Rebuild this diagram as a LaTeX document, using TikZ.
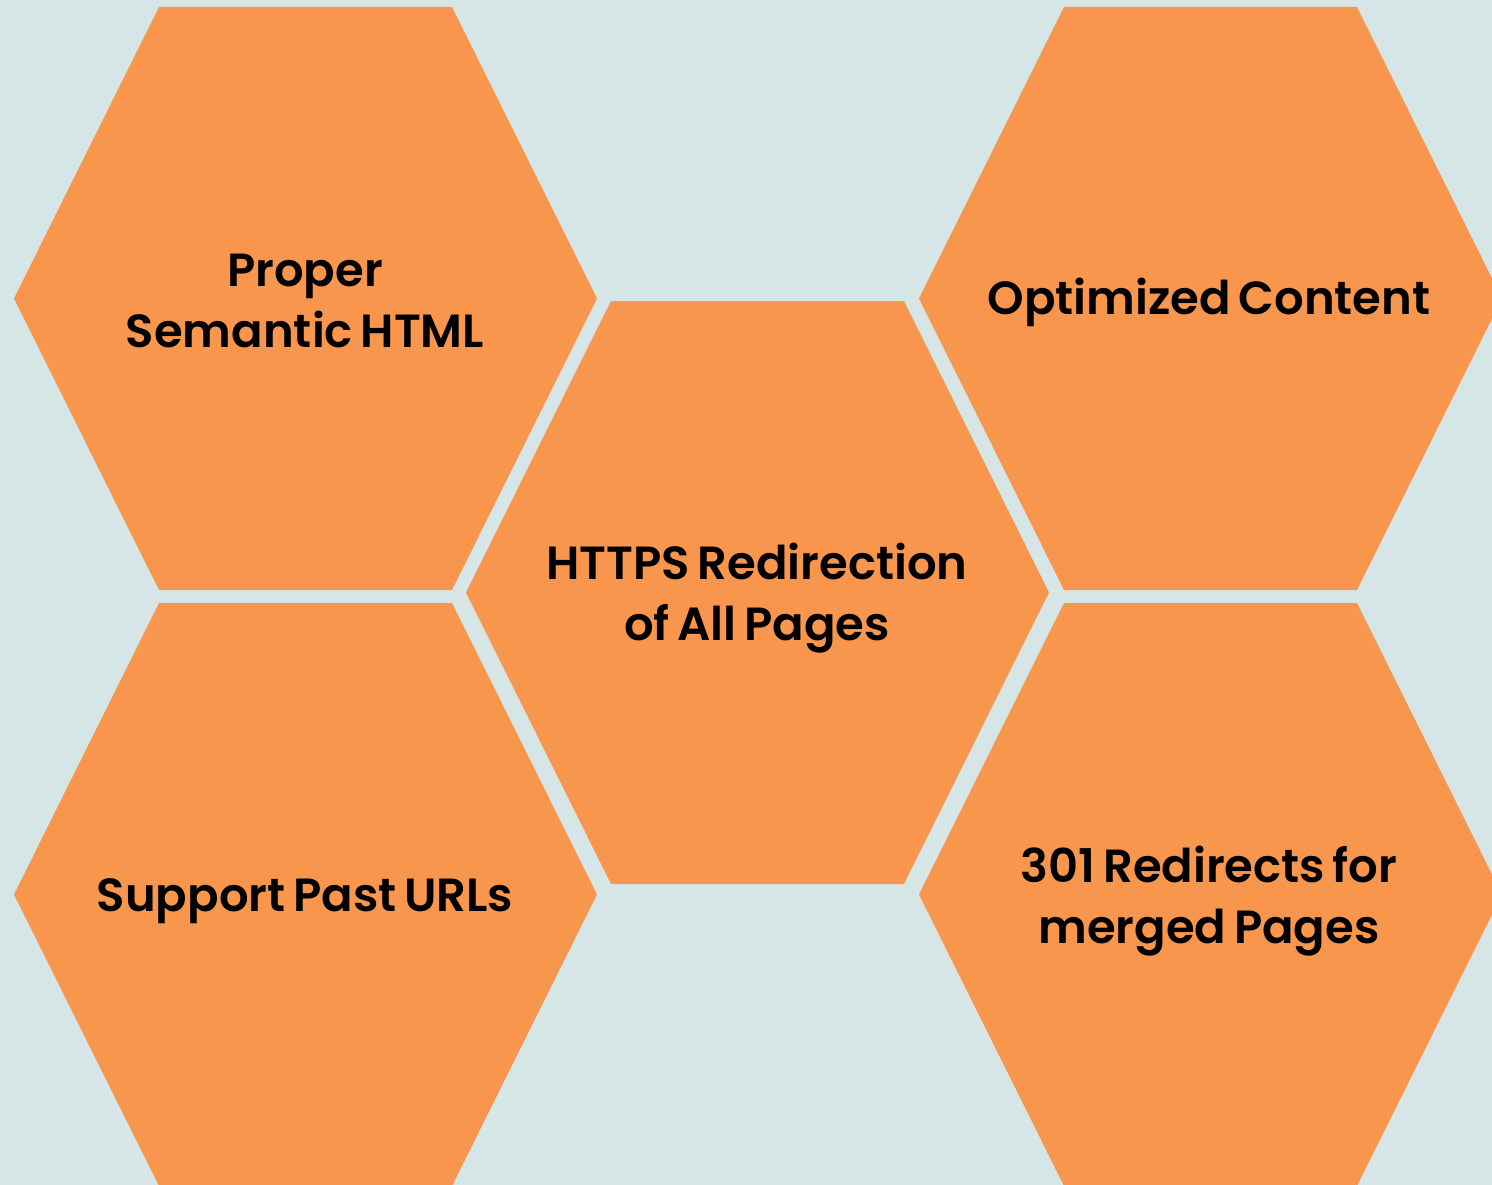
\documentclass[tikz,border=0pt]{standalone}
\usepackage{fontspec}
\newfontfamily\hexfont{Poppins SemiBold}[WordSpace=0.7]
\definecolor{bgcol}{HTML}{D6E5E5}
\definecolor{hexcol}{HTML}{F9964E}
\tikzset{
  hexlabel/.style={font=\hexfont\fontsize{46.5}{61}\selectfont, text=black,
    align=center, inner sep=0pt, anchor=base},
}
\newcommand{\hexat}[2]{%
  \fill[hexcol] (#1-146.5,#2-291.5) -- (#1+146.5,#2-291.5) -- (#1+291.5,#2)
    -- (#1+146.5,#2+291.5) -- (#1-146.5,#2+291.5) -- (#1-291.5,#2) -- cycle;}
\begin{document}
\begin{tikzpicture}[x=1pt,y=-1pt]
\useasboundingbox (0,0) rectangle (1492,1185);
\clip (0,0) rectangle (1492,1185);
\fill[bgcol] (0,0) rectangle (1492,1185);
\hexat{305.5}{298.5}
\hexat{757.5}{592.5}
\hexat{1210.5}{298.5}
\hexat{305.5}{894.5}
\hexat{1210.5}{894.5}
\node[hexlabel] (semantic) at (305,347) {Proper\\Semantic HTML};
\node[hexlabel] (https) at (757,640) {HTTPS Redirection\\of All Pages};
\node[hexlabel] (optimized) at (1209,315) {Optimized Content};
\node[hexlabel] (past) at (305,911) {Support Past URLs};
\node[hexlabel] (redirects) at (1209,943) {301 Redirects for\\merged Pages};
\end{tikzpicture}
\end{document}
